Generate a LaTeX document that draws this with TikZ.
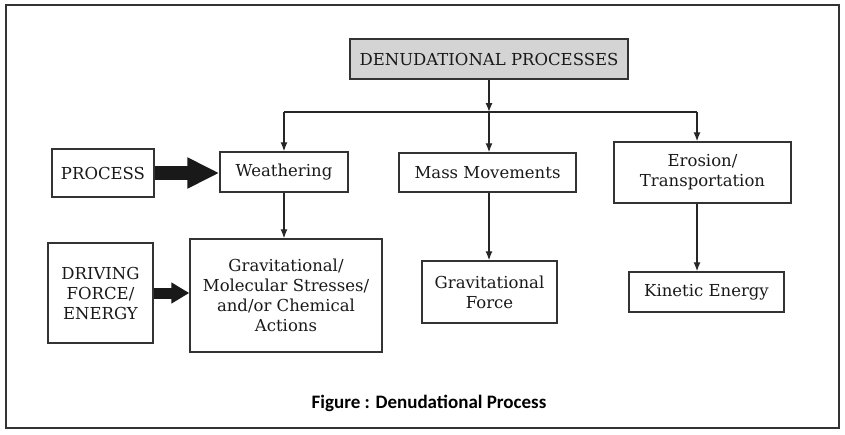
\documentclass[tikz,border=0pt]{standalone}
\usepackage{fontspec}
\setmainfont{DejaVu Serif}
\newfontfamily\capfont{Carlito}
\usepackage{tikz}
\usetikzlibrary{arrows.meta,positioning,calc}

\begin{document}
\begin{tikzpicture}[x=1pt,y=-1pt,font=\fontsize{16.5}{20}\selectfont,
  box/.style={draw=black!80,line width=1.4pt,text=black!90,align=center,inner sep=0pt},
  link/.style={draw=black!85,line width=1.3pt,-{Latex[length=9pt,width=7pt]}},
  fatlink/.style={draw=black!90,-{Triangle[length=#1]}}]
  \useasboundingbox (0,0) rectangle (845,434);
  \draw[black!80,line width=2pt] (6,5) rectangle (839,428);

  % top of the tree
  \node[box,fill=black!17,line width=2pt,minimum width=278,minimum height=40] (denud) at (489,59) {DENUDATIONAL PROCESSES};
  \coordinate (split) at (489,112);
  \coordinate (lft) at (284,112);
  \coordinate (rgt) at (697,112);

  % processes
  \node[box,minimum width=102,minimum height=48] (process) at (103,173) {PROCESS};
  \node[box,minimum width=128,minimum height=40] (weather) at (284,172) {Weathering};
  \node[box,minimum width=177,minimum height=39] (mass) at (487.5,172.5) {Mass Movements};
  \node[box,minimum width=177,minimum height=61] (erosion) at (702.5,172.5) {Erosion/\\Transportation};

  % driving forces
  \node[box,minimum width=105,minimum height=100] (driving) at (100.5,293) {DRIVING\\FORCE/\\ENERGY};
  \node[box,minimum width=192,minimum height=113] (stress) at (286,295.5) {Gravitational/\\Molecular Stresses/\\and/or Chemical\\Actions};
  \node[box,minimum width=135,minimum height=62] (gforce) at (489.5,292) {Gravitational\\Force};
  \node[box,minimum width=155,minimum height=40] (kinetic) at (706.5,292) {Kinetic Energy};

  \draw[link] (denud) -- (split);
  \draw[black!85,line width=1.3pt] (lft) -- (rgt);
  \draw[link] (lft) -- (lft |- weather.north);
  \draw[link] (split) -- (split |- mass.north);
  \draw[link] (rgt) -- (rgt |- erosion.north);

  \draw[link] (weather.south) -- (weather.south |- stress.north);
  \draw[link] (split |- mass.south) -- (split |- gforce.north);
  \draw[link] (rgt |- erosion.south) -- (rgt |- kinetic.north);

  \draw[fatlink={32pt,width=29pt},line width=14pt] (process.east) -- (process.east -| weather.west);
  \draw[fatlink={18pt,width=20pt},line width=11pt] (driving.east) -- (driving.east -| stress.west);

  \node[font=\capfont\bfseries\fontsize{19}{23}\selectfont] (caption) at (429,403) {Figure : Denudational Process};
\end{tikzpicture}
\end{document}
